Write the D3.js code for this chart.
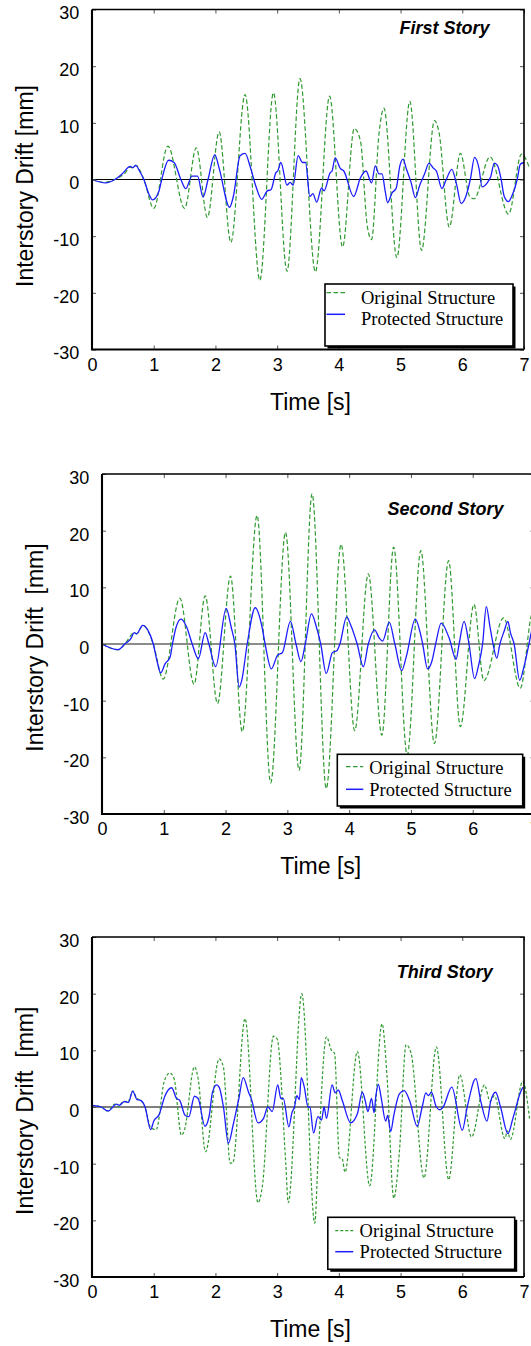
<!DOCTYPE html>
<html>
<head>
<meta charset="utf-8">
<script src="https://cdn.jsdelivr.net/npm/d3@7"></script>
<style>
  html, body { margin: 0; padding: 0; background: #fff; }
  svg { display: block; }
</style>
</head>
<body>
<svg id="chart" width="531" height="1346"></svg>
<script>
// ---- data: interstory drift time histories [s, mm] ----
const timeTicks = [0, 1, 2, 3, 4, 5, 6, 7];
const driftTicks = [-30, -20, -10, 0, 10, 20, 30];
const seriesNames = ["Original Structure", "Protected Structure"];
const storyTitles = ["First Story", "Second Story", "Third Story"];
const driftAxisTitles = ["Interstory Drift [mm]", "Interstory Drift  [mm]", "Interstory Drift  [mm]"];
const timeAxisTitle = "Time [s]";

const firstOriginal = [
  [0,0],[0.21,-0.5],[0.37,0],[0.54,1.2],[0.62,2.2],[0.66,2.0],[0.71,2.5],[0.84,0],[1.00,-5.1],
  [1.23,5.9],[1.50,-5.1],[1.69,5.6],[1.87,-6.7],[2.06,8.4],[2.25,-11.1],[2.48,15.0],[2.72,-17.8],
  [2.94,15.3],[3.16,-16.2],[3.37,17.8],[3.62,-16.3],[3.85,14.7],[4.06,-11.9],[4.25,9.0],[4.35,6.8],
  [4.46,-8.2],[4.53,-10.6],[4.65,8.0],[4.73,12.6],[4.94,-13.8],[5.15,13.8],[5.34,-12.5],[5.55,10.4],
  [5.62,8.5],[5.79,-8.4],[5.97,4.6],[6.12,-3.0],[6.19,-3.4],[6.45,4.0],[6.75,-6.1],[6.96,4.5],[7.09,2.0]
];
const firstProtected = [
  [0,0],[0.22,-0.6],[0.37,0],[0.49,1.0],[0.62,2.3],[0.66,2.1],[0.71,2.5],[0.77,1.5],[0.84,0],[0.92,-2.5],
  [0.98,-3.6],[1.08,-2.2],[1.13,0],[1.24,3.4],[1.33,3.0],[1.44,0],[1.52,-1.6],[1.62,0.6],[1.71,0.6],
  [1.80,-3.1],[1.88,0],[1.99,4.4],[2.06,2.0],[2.23,-4.9],[2.29,-3.0],[2.40,4.2],[2.48,4.6],[2.57,2.0],
  [2.65,-1.0],[2.75,-3.5],[2.84,-2.0],[2.90,-1.8],[2.98,1.2],[3.01,1.5],[3.06,3.0],[3.16,-1.0],[3.21,-0.5],
  [3.26,-1.0],[3.34,4.2],[3.41,3.0],[3.46,3.0],[3.53,-3.0],[3.58,-2.5],[3.64,-4.0],[3.72,-1.5],[3.76,-2.0],
  [3.86,1.2],[3.89,1.5],[3.94,3.8],[4.02,2.0],[4.08,1.5],[4.24,-3.0],[4.35,0.3],[4.44,1.5],[4.53,-0.6],
  [4.59,2.4],[4.65,1.0],[4.70,1.0],[4.75,-2.0],[4.79,-4.1],[4.86,-2.4],[4.93,-1.5],[4.99,2.5],[5.04,3.6],
  [5.09,2.0],[5.17,-0.5],[5.24,-3.2],[5.31,-1.0],[5.39,1.0],[5.46,2.9],[5.53,2.0],[5.58,1.5],[5.67,-1.6],
  [5.74,0],[5.83,1.8],[5.91,-1.0],[5.98,-4.2],[6.05,-3.2],[6.13,0],[6.20,3.9],[6.27,2.0],[6.32,-1.3],
  [6.41,-0.5],[6.46,0.5],[6.52,2.9],[6.57,2.5],[6.63,0],[6.68,-3.0],[6.75,-3.9],[6.80,-3.0],[6.89,0],
  [6.94,2.7],[7.00,3.0]
];

const secondOriginal = [
  [0,0],[0.26,-1.0],[0.37,0],[0.52,2.0],[0.56,1.8],[0.66,3.3],[0.83,0],[0.99,-6.2],[1.26,8.1],
  [1.49,-7.1],[1.67,8.5],[1.87,-10.5],[2.08,12.0],[2.27,-15.5],[2.51,22.7],[2.73,-24.5],[2.97,19.7],
  [3.19,-22.3],[3.40,26.5],[3.63,-25.5],[3.87,17.6],[4.09,-15.3],[4.31,12.4],[4.53,-16.1],[4.72,17.1],
  [4.94,-19.6],[5.16,16.5],[5.38,-17.6],[5.61,14.7],[5.80,-14.6],[6.02,7.0],[6.18,-6.5],[6.50,4.6],
  [6.77,-7.8],[6.97,5.4],[7.16,0]
];
const secondProtected = [
  [0,0],[0.26,-1.0],[0.37,0],[0.47,1.0],[0.52,2.0],[0.56,1.8],[0.66,3.3],[0.74,2.5],[0.83,0],[0.89,-3.0],
  [0.95,-5.1],[1.02,-3.5],[1.10,-2.4],[1.14,0],[1.20,3.0],[1.28,4.4],[1.37,3.0],[1.46,0],[1.56,-2.6],
  [1.67,2.0],[1.73,0],[1.84,-4.0],[2.01,6.3],[2.09,3.0],[2.15,0],[2.22,-7.6],[2.26,-6.5],[2.35,0],
  [2.48,6.4],[2.59,3.0],[2.64,0],[2.74,-4.4],[2.84,-2.0],[2.92,-1.5],[3.05,4.0],[3.14,0],[3.22,-3.1],
  [3.29,0],[3.39,5.3],[3.47,3.0],[3.54,0],[3.63,-5.2],[3.73,-1.5],[3.80,-1.2],[3.85,0],[3.96,4.8],
  [4.02,3.5],[4.13,0],[4.23,-4.0],[4.31,0],[4.41,2.5],[4.49,1.0],[4.54,0.5],[4.65,3.8],[4.74,0],
  [4.85,-4.7],[4.93,-2.0],[5.07,4.4],[5.15,2.0],[5.19,0],[5.27,-4.4],[5.34,-3.0],[5.40,0],[5.49,3.7],
  [5.62,1.0],[5.73,-2.7],[5.78,0],[5.86,4.0],[5.94,0],[6.03,-6.1],[6.09,-4.0],[6.16,0],[6.22,6.6],
  [6.28,3.0],[6.33,0],[6.39,-2.5],[6.44,0],[6.51,2.3],[6.57,4.0],[6.61,2.0],[6.67,0],[6.76,-6.4],
  [6.83,-4.0],[6.91,0],[6.97,3.0],[7.10,5.0]
];

const thirdOriginal = [
  [0,0.3],[0.15,0],[0.26,-0.7],[0.37,0.5],[0.43,0],[0.51,1.0],[0.58,0.8],[0.66,2.8],[0.73,1.5],
  [0.78,1.2],[0.86,0],[0.95,-3.6],[1.04,-4.0],[1.17,4.5],[1.26,6.0],[1.33,5.0],[1.45,-5.0],[1.50,-4.0],
  [1.66,7.1],[1.72,5.0],[1.84,-7.9],[2.06,8.5],[2.13,7.0],[2.24,-9.9],[2.28,-9.9],[2.48,15.6],
  [2.69,-16.9],[2.76,-14.0],[2.94,12.5],[3.00,12.0],[3.14,-10.0],[3.18,-16.9],[3.40,20.0],[3.61,-20.5],
  [3.66,-10.0],[3.80,12.4],[3.88,10.0],[3.93,9.5],[4.01,-9.0],[4.05,-9.0],[4.10,-11.5],[4.30,9.8],
  [4.50,-13.9],[4.70,14.7],[4.78,5.5],[4.89,-16.1],[4.98,-8.0],[5.09,11.0],[5.17,9.5],[5.38,-12.5],
  [5.58,10.6],[5.78,-12.8],[5.96,5.7],[6.15,-5.3],[6.36,3.9],[6.45,1.0],[6.52,2.0],[6.69,-5.6],
  [6.73,-4.2],[6.78,-5.7],[6.98,4.5],[7.09,-2.1]
];
const thirdProtected = [
  [0,0.3],[0.15,0],[0.26,-0.7],[0.40,0.5],[0.44,0.3],[0.53,1.0],[0.59,0.8],[0.66,2.8],[0.73,1.3],
  [0.78,1.2],[0.86,0],[0.95,-4.0],[1.00,-2.5],[1.09,-1.3],[1.18,1.9],[1.29,3.4],[1.37,1.5],[1.42,1.2],
  [1.51,-1.5],[1.57,-1.7],[1.66,1.9],[1.72,1.5],[1.83,-3.4],[1.90,-1.5],[1.95,2.5],[2.02,3.9],[2.06,3.5],
  [2.13,0],[2.21,-6.4],[2.29,-3.0],[2.35,0],[2.38,1.5],[2.45,5.2],[2.54,2.5],[2.58,1.5],[2.69,-2.8],
  [2.78,-2.0],[2.85,0],[2.92,-0.8],[3.01,3.9],[3.06,1.5],[3.10,1.5],[3.19,-3.5],[3.24,-1.0],[3.28,0],
  [3.32,2.0],[3.36,1.3],[3.39,5.2],[3.44,3.5],[3.50,0],[3.53,0],[3.59,-4.6],[3.66,-1.7],[3.72,-2.3],
  [3.76,0],[3.80,-2.0],[3.89,3.9],[3.94,2.5],[3.99,3.0],[4.06,1.0],[4.19,-2.8],[4.30,-1.2],[4.38,2.6],
  [4.43,1.0],[4.47,-0.8],[4.53,1.5],[4.57,-1.0],[4.60,2.0],[4.64,4.0],[4.68,2.0],[4.76,-2.5],[4.79,-1.5],
  [4.84,-4.3],[4.89,-1.5],[4.98,2.3],[5.06,2.9],[5.15,1.0],[5.27,-3.4],[5.35,0],[5.41,2.5],[5.45,2.0],
  [5.50,2.6],[5.58,0],[5.64,-0.5],[5.69,0],[5.83,3.5],[6.00,-4.1],[6.08,0],[6.22,5.0],[6.30,1.0],
  [6.40,-2.5],[6.46,1.0],[6.54,2.6],[6.62,0],[6.74,-4.7],[6.82,-2.0],[6.94,2.5],[6.98,3.5]
];

const originalSeries = [firstOriginal, secondOriginal, thirdOriginal];
const protectedSeries = [firstProtected, secondProtected, thirdProtected];

// ---- layout of the three stacked panels ----
const panels = [
  { x0: 92, x1: 524, top: 9.5, bottom: 349.5, titleX: 489.5, titleY: 33.5, ylabX: 33, ylabY: 186,
    zeroColor: "#000", dash: "4.5,2.5",
    legend: { x: 325, y: 284, w: 188, h: 62, lx0: 326.5, lx1: 345, ly: [292.7, 314.3], tx: 361, ty: [304.3, 325.3] } },
  { x0: 102, x1: 534.5, top: 474, bottom: 814, titleX: 503.5, titleY: 515, ylabX: 43, ylabY: 647.5,
    zeroColor: "#666", dash: "4.5,2.5",
    legend: { x: 337.3, y: 754.3, w: 185.4, h: 51.7, lx0: 346, lx1: 363.3, ly: [766.7, 789.3], tx: 369.3, ty: [774, 796] } },
  { x0: 92, x1: 524, top: 937, bottom: 1277, titleX: 492.7, titleY: 978.3, ylabX: 33, ylabY: 1110.8,
    zeroColor: "#000", dash: "3,2",
    legend: { x: 327.8, y: 1217.3, w: 186.9, h: 52, lx0: 335.3, lx1: 353.2, ly: [1230.7, 1251.7], tx: 359.6, ty: [1236.7, 1258.3] } }
];

const sans = "'Liberation Sans', Arial, Helvetica, sans-serif";
const serif = "'Liberation Serif', 'Times New Roman', Times, serif";
const green = "#2f9a2f";
const blue = "#1c1cff";
const plainNumber = d => String(d);   // hyphen-minus, as in the printed axes

const svg = d3.select("#chart");
svg.append("rect").attr("width", 531).attr("height", 1346).attr("fill", "#fff");

panels.forEach((p, i) => {
  const x = d3.scaleLinear().domain([0, 7]).range([p.x0, p.x1]);
  const y = d3.scaleLinear().domain([-30, 30]).range([p.bottom, p.top]);
  const g = svg.append("g");

  // zero reference line
  g.append("line")
    .attr("x1", x(0)).attr("x2", x(7)).attr("y1", y(0)).attr("y2", y(0))
    .attr("stroke", p.zeroColor).attr("stroke-width", i === 1 ? 1.4 : 1.1);

  const line = d3.line().x(d => x(d[0])).y(d => y(d[1])).curve(d3.curveMonotoneX);

  g.append("path").datum(originalSeries[i])
    .attr("d", line).attr("fill", "none")
    .attr("stroke", green).attr("stroke-width", 1.2).attr("stroke-dasharray", p.dash);

  g.append("path").datum(protectedSeries[i])
    .attr("d", line).attr("fill", "none")
    .attr("stroke", blue).attr("stroke-width", 1.3).attr("stroke-linejoin", "round");

  // inward ticks on all four sides
  const tickStyle = sel => {
    sel.select(".domain").remove();
    sel.selectAll(".tick line").attr("stroke", "#555").attr("stroke-width", 1);
  };
  g.append("g").attr("transform", `translate(0,${p.bottom})`)
    .call(d3.axisBottom(x).tickValues(timeTicks).tickSize(-4).tickFormat("")).call(tickStyle);
  g.append("g").attr("transform", `translate(0,${p.top})`)
    .call(d3.axisTop(x).tickValues(timeTicks).tickSize(-4).tickFormat("")).call(tickStyle);
  g.append("g").attr("transform", `translate(${p.x0},0)`)
    .call(d3.axisLeft(y).tickValues(driftTicks).tickSize(-4).tickFormat("")).call(tickStyle);
  g.append("g").attr("transform", `translate(${p.x1},0)`)
    .call(d3.axisRight(y).tickValues(driftTicks).tickSize(-4).tickFormat("")).call(tickStyle);

  // tick labels
  const yLab = g.append("g").attr("transform", `translate(${p.x0},0)`)
    .call(d3.axisLeft(y).tickValues(driftTicks).tickSize(0).tickPadding(12.7).tickFormat(plainNumber));
  yLab.select(".domain").remove();
  yLab.selectAll("text").attr("dy", "0.52em").attr("fill", "#000")
    .style("font-family", sans).style("font-size", "18px");

  const xLab = g.append("g").attr("transform", `translate(0,${p.bottom})`)
    .call(d3.axisBottom(x).tickValues(timeTicks).tickSize(0).tickPadding(8.6).tickFormat(plainNumber));
  xLab.select(".domain").remove();
  xLab.selectAll("text").attr("fill", "#000")
    .style("font-family", sans).style("font-size", "18px");

  // frame
  g.append("path")
    .attr("d", `M${p.x0},${p.top}H${p.x1}V${p.bottom}`)
    .attr("fill", "none").attr("stroke", "#000").attr("stroke-width", 1.6);
  g.append("path")
    .attr("d", `M${p.x0},${p.top}V${p.bottom}H${p.x1}`)
    .attr("fill", "none").attr("stroke", "#000").attr("stroke-width", 2.1);

  // axis titles
  g.append("text")
    .attr("transform", `translate(${p.ylabX},${p.ylabY}) rotate(-90)`)
    .attr("text-anchor", "middle")
    .style("font-family", sans).style("font-size", "23px").style("white-space", "pre")
    .text(driftAxisTitles[i]);
  g.append("text")
    .attr("x", (p.x0 + p.x1) / 2 + 2.5).attr("y", p.bottom + 60)
    .attr("text-anchor", "middle")
    .style("font-family", sans).style("font-size", "23px")
    .text(timeAxisTitle);

  // story label
  g.append("text")
    .attr("x", p.titleX).attr("y", p.titleY).attr("text-anchor", "end")
    .style("font-family", sans).style("font-size", "18px")
    .style("font-weight", "bold").style("font-style", "italic")
    .text(storyTitles[i]);

  // legend with drop shadow
  const L = p.legend;
  const lg = g.append("g");
  lg.append("rect").attr("x", L.x + 2.5).attr("y", L.y + 2.5).attr("width", L.w).attr("height", L.h).attr("fill", "#000");
  lg.append("rect").attr("x", L.x).attr("y", L.y).attr("width", L.w).attr("height", L.h)
    .attr("fill", "#fff").attr("stroke", "#000").attr("stroke-width", 1.6);
  const styles = [
    { color: green, width: 1.2, dash: p.dash },
    { color: blue, width: 1.5, dash: null }
  ];
  seriesNames.forEach((name, k) => {
    lg.append("line")
      .attr("x1", L.lx0).attr("x2", L.lx1).attr("y1", L.ly[k]).attr("y2", L.ly[k])
      .attr("stroke", styles[k].color).attr("stroke-width", styles[k].width)
      .attr("stroke-dasharray", styles[k].dash);
    lg.append("text")
      .attr("x", L.tx).attr("y", L.ty[k])
      .style("font-family", serif).style("font-size", "18.5px")
      .text(name);
  });
});
</script>
</body>
</html>
